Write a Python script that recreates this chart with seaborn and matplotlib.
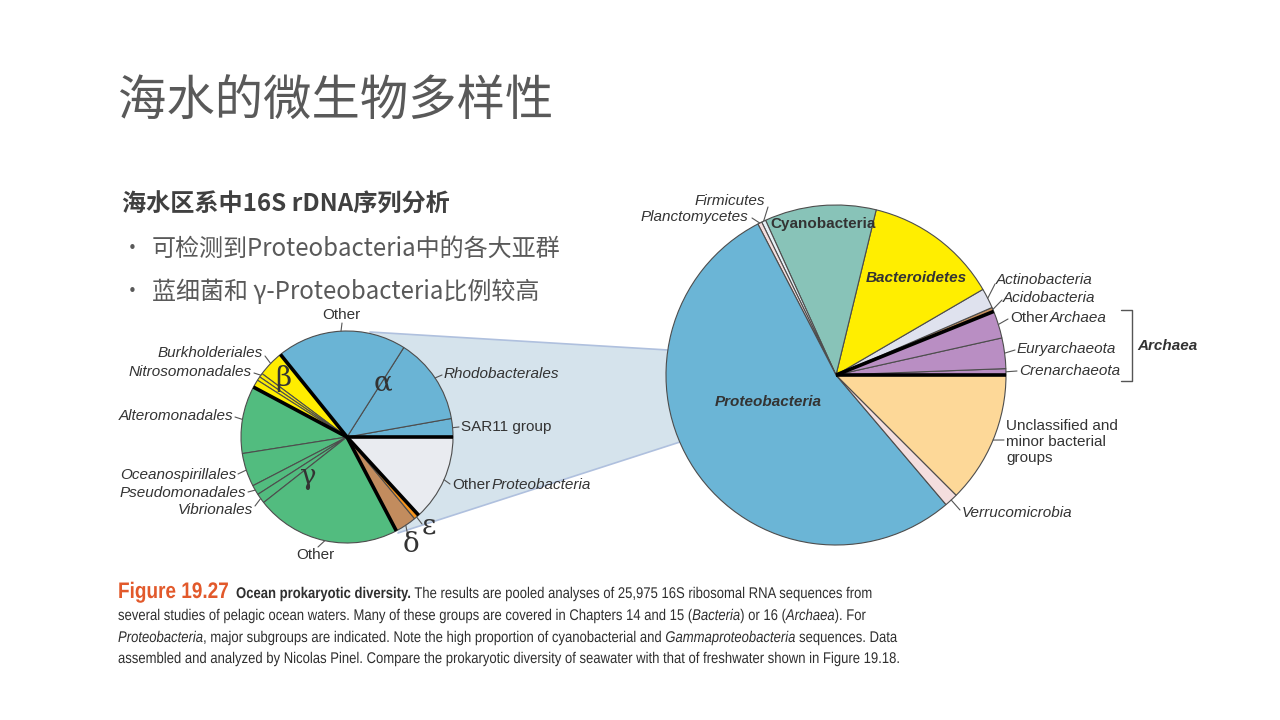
import numpy as np
import matplotlib
matplotlib.use("Agg")
import matplotlib.pyplot as plt
from matplotlib.font_manager import FontProperties
from matplotlib.textpath import TextPath
from matplotlib.patches import PathPatch
from matplotlib.transforms import Affine2D
import seaborn as sns

# 大饼图：海水原核生物组成（%），从正东开始逆时针
big_groups = ["Crenarchaeota", "Euryarchaeota", "Other Archaea", "Acidobacteria",
              "Actinobacteria", "Bacteroidetes", "Cyanobacteria", "Firmicutes",
              "Planctomycetes", "Proteobacteria", "Verrucomicrobia", "Unclassified"]
big_pct = [0.6, 2.9, 2.6, 0.4, 1.9, 12.8, 10.6, 0.4, 0.4, 53.6, 1.3, 12.5]
big_colors = ["#B98EC3", "#B98EC3", "#B98EC3", "#C8915E", "#DFE2EE", "#FFEE00",
              "#88C3B8", "#E6F0F6", "#F4DEDE", "#6BB5D6", "#F4DEDE", "#FDD898"]

# 小饼图：Proteobacteria 各亚群（%）
small_groups = ["SAR11 group", "Rhodobacterales", "Other alpha", "Burkholderiales",
                "Nitrosomonadales", "beta minor", "Other beta", "Alteromonadales",
                "Oceanospirillales", "Pseudomonadales", "Vibrionales", "Other gamma",
                "delta", "epsilon", "Other Proteobacteria"]
small_pct = [2.8, 13.2, 19.8, 4.0, 0.6, 0.6, 1.2, 10.3, 5.1, 1.5, 1.5, 22.1, 3.3, 0.8, 13.2]
small_colors = ["#6AB4D5"] * 3 + ["#FFED00"] * 4 + ["#52BC7F"] * 5 + \
               ["#C28C5E", "#F7941D", "#E9EBF0"]

sns.set_theme(style="white")
cjk = ["Noto Sans CJK SC", "DejaVu Sans"]
lab_font = "Liberation Sans"

fig = plt.figure(figsize=(12.8, 7.2), dpi=100, facecolor="white")
ax = fig.add_axes([0, 0, 1, 1])


def Y(y):
    return 720 - y


# ---- 两个饼图的位置 ----
bc, br = (836, Y(375)), 170
sc, sr = (347, Y(437)), 106

# 连接阴影
poly = np.array([(370, Y(332)), (668, Y(350)), (680, Y(442)), (398, Y(533))])
ax.fill(poly[:, 0], poly[:, 1], color="#D5E3EC", zorder=1, lw=0)
ax.plot([370, 668], [Y(332), Y(350)], color="#AFC0DE", lw=1.2, zorder=1)
ax.plot([398, 680], [Y(533), Y(442)], color="#AFC0DE", lw=1.2, zorder=1)

wp = dict(edgecolor="#4d4d4d", linewidth=0.8)
ax.pie(big_pct, colors=big_colors, startangle=0, counterclock=True,
       center=bc, radius=br, wedgeprops=wp, frame=True)
ax.pie(small_pct, colors=small_colors, startangle=0, counterclock=True,
       center=sc, radius=sr, wedgeprops=wp, frame=True)


def angles(vals):
    c = np.concatenate([[0], np.cumsum(vals)])
    return 360 * c / c[-1]


def edge(center, r, deg, k=1.0):
    a = np.deg2rad(deg)
    return center[0] + k * r * np.cos(a), center[1] + k * r * np.sin(a)


ba = angles(big_pct)
sa = angles(small_pct)

# 粗黑分隔线
for i in [0, 3]:
    x, y = edge(bc, br, ba[i])
    ax.plot([bc[0], x], [bc[1], y], color="black", lw=2.6, zorder=5, solid_capstyle="butt")
for i in [0, 3, 7, 12, 14]:
    x, y = edge(sc, sr, sa[i])
    ax.plot([sc[0], x], [sc[1], y], color="black", lw=2.6, zorder=5, solid_capstyle="butt")

lab = dict(family=lab_font, fontsize=11, color="#333333", va="center", zorder=6)


def leader(center, r, deg, tx, ty):
    x, y = edge(center, r, deg)
    ax.plot([x, tx], [y, ty], color="#555555", lw=0.8, zorder=6)


def mid(a, i):
    return (a[i] + a[i + 1]) / 2


# ---- 大饼图标签 ----
ax.text(765, Y(201), "Firmicutes", ha="right", style="italic", **lab)
leader(bc, br, mid(ba, 7), 768, Y(207))
ax.text(748, Y(217), "Planctomycetes", ha="right", style="italic", **lab)
leader(bc, br, mid(ba, 8), 752, Y(218))
ax.text(823, Y(224), "Cyanobacteria", ha="center", weight="bold", **lab)
ax.text(916, Y(278), "Bacteroidetes", ha="center", weight="bold", style="italic", **lab)
ax.text(768, Y(402), "Proteobacteria", ha="center", weight="bold", style="italic", **lab)
ax.text(996, Y(280), "Actinobacteria", ha="left", style="italic", **lab)
leader(bc, br, mid(ba, 4), 995, Y(284))
ax.text(1003, Y(298), "Acidobacteria", ha="left", style="italic", **lab)
leader(bc, br, mid(ba, 3), 1002, Y(300))
ax.text(1010, Y(318), "Other", ha="left", **lab)
ax.text(1050, Y(318), "Archaea", ha="left", style="italic", **lab)
leader(bc, br, mid(ba, 2), 1008, Y(319))
ax.text(1017, Y(349), "Euryarchaeota", ha="left", style="italic", **lab)
leader(bc, br, mid(ba, 1), 1015, Y(350))
ax.text(1019, Y(371), "Crenarchaeota", ha="left", style="italic", **lab)
leader(bc, br, mid(ba, 0), 1017, Y(371))
ax.plot([1121, 1132, 1132, 1121], [Y(310), Y(310), Y(381), Y(381)], color="#555555", lw=1)
ax.text(1137, Y(346), "Archaea", ha="left", weight="bold", style="italic", **lab)
ax.text(1006, Y(442), "Unclassified and\nminor bacterial\ngroups", ha="left",
        linespacing=1.2, **lab)
leader(bc, br, mid(ba, 11), 1004, Y(440))
ax.text(962, Y(513), "Verrucomicrobia", ha="left", style="italic", **lab)
leader(bc, br, mid(ba, 10), 960, Y(510))

# ---- 小饼图标签 ----
ax.text(341, Y(315), "Other", ha="center", **lab)
leader(sc, sr, mid(sa, 2), 342, Y(323))
ax.text(444, Y(374), "Rhodobacterales", ha="left", style="italic", **lab)
leader(sc, sr, mid(sa, 1), 442, Y(375))
ax.text(461, Y(427), "SAR11 group", ha="left", **lab)
leader(sc, sr, mid(sa, 0), 459, Y(427))
ax.text(263, Y(353), "Burkholderiales", ha="right", style="italic", **lab)
leader(sc, sr, mid(sa, 3), 265, Y(356))
ax.text(252, Y(372), "Nitrosomonadales", ha="right", style="italic", **lab)
leader(sc, sr, mid(sa, 4), 254, Y(373))
ax.text(233, Y(416), "Alteromonadales", ha="right", style="italic", **lab)
leader(sc, sr, mid(sa, 7), 235, Y(417))
ax.text(236, Y(475), "Oceanospirillales", ha="right", style="italic", **lab)
leader(sc, sr, mid(sa, 8), 238, Y(474))
ax.text(246, Y(493), "Pseudomonadales", ha="right", style="italic", **lab)
leader(sc, sr, mid(sa, 9), 248, Y(492))
ax.text(253, Y(510), "Vibrionales", ha="right", style="italic", **lab)
leader(sc, sr, mid(sa, 10), 255, Y(506))
ax.text(315, Y(555), "Other", ha="center", **lab)
leader(sc, sr, mid(sa, 11), 318, Y(547))
ax.text(452, Y(485), "Other", ha="left", **lab)
ax.text(492, Y(485), "Proteobacteria", ha="left", style="italic", **lab)
leader(sc, sr, mid(sa, 14), 450, Y(484))
leader(sc, sr, mid(sa, 12), 408, Y(536))
leader(sc, sr, mid(sa, 13), 422, Y(524))

greek = dict(family="DejaVu Serif", fontsize=20, color="#333333", ha="center",
             va="center", zorder=6)
ax.text(383, Y(383), "α", **greek)
ax.text(283, Y(378), "β", **greek)
ax.text(308, Y(476), "γ", **greek)
ax.text(411, Y(545), "δ", **greek)
ax.text(429, Y(526), "ε", **greek)

# ---- 标题与要点 ----
ax.text(118, Y(102), "海水的微生物多样性", family=cjk, fontsize=34.8, color="#595959",
        va="center")
ax.text(122, Y(205), "海水区系中16S rDNA序列分析", family=cjk, fontsize=17.4,
        weight="bold", color="#404040", va="center")
ax.text(122, Y(249), "•", family=cjk, fontsize=15, color="#595959", va="center")
ax.text(152, Y(249), "可检测到Proteobacteria中的各大亚群", family=cjk, fontsize=17.3,
        color="#595959", va="center")
ax.text(122, Y(292), "•", family=cjk, fontsize=15, color="#595959", va="center")
ax.text(152, Y(292), "蓝细菌和 γ-Proteobacteria比例较高", family=cjk, fontsize=17.3,
        color="#595959", va="center")

# ---- 图注（窄体效果：横向压缩的文字路径） ----
fp_reg = FontProperties(family=lab_font)
fp_bold = FontProperties(family=lab_font, weight="bold")
fp_it = FontProperties(family=lab_font, style="italic")


def tw(s, fp, size):
    w1 = TextPath((0, 0), "|" + s + "|", size=size, prop=fp).get_extents().width
    w2 = TextPath((0, 0), "||", size=size, prop=fp).get_extents().width
    return w1 - w2


line4 = ("assembled and analyzed by Nicolas Pinel. Compare the prokaryotic diversity "
         "of seawater with that of freshwater shown in Figure 19.18.")
cap_px = 15.5
sx = 782 / tw(line4, fp_reg, cap_px)


def runs(x, yb, parts):
    for s, fp, size, col in parts:
        p = TextPath((0, 0), s, size=size, prop=fp)
        tr = Affine2D().scale(sx, 1).translate(x, Y(yb))
        ax.add_patch(PathPatch(tr.transform_path(p), facecolor=col, lw=0, zorder=6))
        x += sx * tw(s, fp, size)


c0 = "#2f2f2f"
runs(118, 598, [("Figure 19.27", fp_bold, 22.5, "#E2592B"),
                ("  Ocean prokaryotic diversity.", fp_bold, cap_px, c0),
                (" The results are pooled analyses of 25,975 16S ribosomal RNA sequences from",
                 fp_reg, cap_px, c0)])
runs(118, 620, [("several studies of pelagic ocean waters. Many of these groups are covered "
                 "in Chapters 14 and 15 (", fp_reg, cap_px, c0),
                ("Bacteria", fp_it, cap_px, c0), (") or 16 (", fp_reg, cap_px, c0),
                ("Archaea", fp_it, cap_px, c0), ("). For", fp_reg, cap_px, c0)])
runs(118, 642, [("Proteobacteria", fp_it, cap_px, c0),
                (", major subgroups are indicated. Note the high proportion of "
                 "cyanobacterial and ", fp_reg, cap_px, c0),
                ("Gammaproteobacteria", fp_it, cap_px, c0),
                (" sequences. Data", fp_reg, cap_px, c0)])
runs(118, 663, [(line4, fp_reg, cap_px, c0)])

ax.set_xlim(0, 1280)
ax.set_ylim(0, 720)
ax.set_aspect("equal")
ax.axis("off")
fig.savefig("out.png", dpi=100, facecolor="white")
